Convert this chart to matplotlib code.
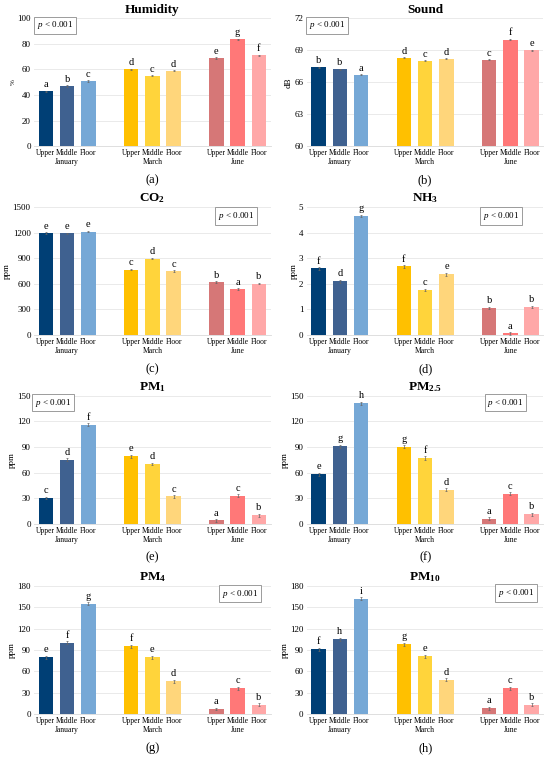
import numpy as np
import matplotlib
matplotlib.use("Agg")
import matplotlib.pyplot as plt
import matplotlib.transforms as mtrans

plt.rcParams['font.family'] = ['Liberation Serif', 'DejaVu Serif']
plt.rcParams['mathtext.fontset'] = 'custom'
plt.rcParams['mathtext.rm'] = 'Liberation Serif'
plt.rcParams['mathtext.it'] = 'Liberation Serif:italic'
plt.rcParams['mathtext.bf'] = 'Liberation Serif:bold'

months = ["January", "March", "June"]
levels = ["Upper", "Middle", "Floor"]
colors = ["#003f75", "#3f6190", "#76a8d6",
          "#ffc000", "#ffd43b", "#ffd67b",
          "#d67777", "#ff7878", "#ffa8a8"]

titles = ["Humidity", "Sound", r"$\mathbf{CO_2}$", r"$\mathbf{NH_3}$",
          r"$\mathbf{PM_1}$", r"$\mathbf{PM_{2.5}}$", r"$\mathbf{PM_4}$", r"$\mathbf{PM_{10}}$"]
ylabels = ["%", "dB", "ppm", "ppm", "ppm", "ppm", "ppm", "ppm"]
captions = ["(a)", "(b)", "(c)", "(d)", "(e)", "(f)", "(g)", "(h)"]

humidity = [43, 47, 51, 60, 55, 59, 69, 83.5, 71]
sound = [67.4, 67.2, 66.7, 68.3, 68.0, 68.2, 68.1, 70.0, 69.0]
co2 = [1195, 1192, 1210, 765, 895, 750, 620, 540, 602]
nh3 = [2.6, 2.1, 4.65, 2.68, 1.75, 2.37, 1.05, 0.06, 1.1]
pm1 = [30, 75, 116, 79, 70, 32, 4, 33, 10]
pm25 = [58, 91, 141, 90, 77, 40, 6, 35, 11]
pm4 = [80, 100, 155, 95, 80, 46, 7, 36, 13]
pm10 = [91, 105, 162, 98, 81, 48, 8, 36, 13]
series = [humidity, sound, co2, nh3, pm1, pm25, pm4, pm10]

letters = ["abcdcdegf", "bbadcdcfe", "eeecdcbab", "fdgfcebab",
           "cdfedcacb", "eghgfdacb", "efgfedacb", "fhigedacb"]
errs = [0.5, 0.05, 8, 0.05, 1.5, 1.8, 2.0, 2.0]
ylims = [(0, 100), (60, 72), (0, 1500), (0, 5), (0, 150), (0, 150), (0, 180), (0, 180)]
ysteps = [20, 3, 300, 1, 30, 30, 30, 30]
pbox = [(0.09, 0.945), (0.085, 0.945), (0.855, 0.93), (0.82, 0.93),
        (0.08, 0.945), (0.84, 0.945), (0.87, 0.94), (0.885, 0.945)]

xpos = np.array([0, 1, 2, 4, 5, 6, 8, 9, 10], dtype=float)

fig = plt.figure(figsize=(5.5, 7.58), dpi=100)
lefts = [0.062, 0.558]
bottoms = [0.807, 0.558, 0.309, 0.058]
w, h = 0.430, 0.169

for i in range(8):
    ax = fig.add_axes([lefts[i % 2], bottoms[i // 2], w, h])
    vals = series[i]
    lo, hi = ylims[i]
    ax.bar(xpos, np.array(vals) - lo, bottom=lo, width=0.68, color=colors, zorder=3)
    ax.errorbar(xpos, vals, yerr=errs[i], fmt='none', ecolor='#666666',
                elinewidth=0.5, capsize=1, capthick=0.5, zorder=4)
    pad = (hi - lo) * 0.012
    for x, v, l in zip(xpos, vals, letters[i]):
        ax.text(x, v + errs[i] + pad, l, ha='center', va='bottom', fontsize=7.5)
    ax.set_ylim(lo, hi)
    ax.set_xlim(-0.55, 10.55)
    ax.set_yticks(np.arange(lo, hi + 0.001, ysteps[i]))
    ax.yaxis.grid(True, color='#e6e6e6', linewidth=0.6, zorder=0)
    for s in ['top', 'right', 'left']:
        ax.spines[s].set_visible(False)
    ax.spines['bottom'].set_color('#d9d9d9')
    ax.spines['bottom'].set_linewidth(0.6)
    ax.tick_params(axis='y', length=0, labelsize=6.5, pad=2.5)
    ax.tick_params(axis='x', length=0, labelsize=5.5, pad=2)
    ax.set_xticks(xpos)
    ax.set_xticklabels(levels * 3)
    ax.set_ylabel(ylabels[i], fontsize=5 if i == 0 else 6.5, labelpad=1)
    ax.set_title(titles[i], fontsize=9.5, fontweight='bold', pad=4)
    trans = mtrans.blended_transform_factory(ax.transData, ax.transAxes)
    for g, m in enumerate(months):
        ax.text(xpos[g * 3 + 1], -0.125, m, transform=trans, ha='center', va='center', fontsize=5.5)
    ax.text(0.5, -0.265, captions[i], transform=ax.transAxes, ha='center', va='center', fontsize=9)
    ax.text(pbox[i][0], pbox[i][1], r'$p$ < 0.001', transform=ax.transAxes, ha='center',
            va='center', fontsize=6.5, zorder=5,
            bbox=dict(boxstyle='square,pad=0.3', facecolor='white', edgecolor='#8c8c8c', linewidth=0.6))

fig.savefig("out.png", dpi=100, facecolor='white')
